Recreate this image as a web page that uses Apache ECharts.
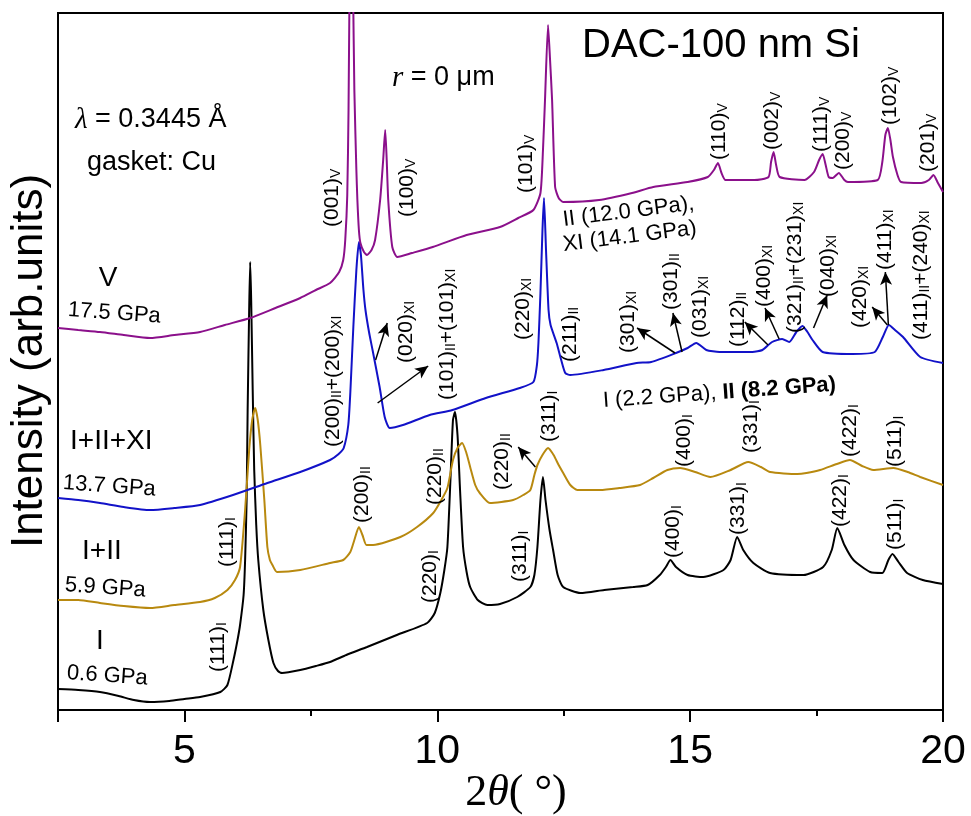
<!DOCTYPE html>
<html><head><meta charset="utf-8">
<script src="https://cdn.jsdelivr.net/npm/echarts@6/dist/echarts.min.js"></script>
<style>html,body{margin:0;padding:0;background:#fff}#c{width:971px;height:816px}</style>
</head><body><div id="c"></div>
<script>
// ---- data: [2theta (deg), intensity (arb. units)] ----
const sI = [[2.5,21],[2.9,20],[3.33,18],[3.7,14],[4.0,10],[4.32,8],[4.7,9],[5.0,11],[5.31,13],[5.71,18],[5.85,25],[5.97,50],[6.05,70],[6.10,85],[6.17,115],[6.20,150],[6.23,210],[6.25,300],[6.28,400],[6.30,448],[6.32,410],[6.35,320],[6.38,240],[6.42,185],[6.46,150],[6.56,100],[6.66,70],[6.76,47],[6.85,39],[6.93,37],[7.29,40],[7.6,44],[7.88,48],[8.2,55],[8.61,63],[9.2,75],[9.80,87],[9.95,97],[10.06,117],[10.14,140],[10.20,163],[10.26,230],[10.31,290],[10.35,298],[10.40,275],[10.45,220],[10.51,163],[10.58,138],[10.65,123],[10.8,110],[10.99,105],[11.24,106],[11.58,113],[11.84,123],[11.92,135],[11.98,163],[12.04,210],[12.09,233],[12.14,210],[12.22,180],[12.29,160],[12.38,135],[12.49,123],[12.83,117],[13.3,120],[13.87,123],[14.16,125],[14.40,135],[14.52,143],[14.61,150],[14.72,143],[14.95,135],[15.26,133],[15.66,140],[15.80,150],[15.93,173],[16.05,160],[16.25,147],[16.58,137],[17.24,135],[17.63,143],[17.80,160],[17.91,182],[18.05,165],[18.23,150],[18.56,138],[18.80,137],[18.92,150],[19.00,156],[19.12,148],[19.29,137],[19.6,130],[20.0,126]];
const sII = [[2.5,110],[2.9,110],[3.33,107],[3.8,104],[4.32,102],[4.8,105],[5.31,108],[5.6,112],[5.85,120],[6.0,130],[6.10,143],[6.20,200],[6.28,260],[6.34,290],[6.40,302],[6.45,290],[6.50,265],[6.58,210],[6.64,163],[6.69,150],[6.74,145],[6.83,138],[7.29,140],[7.88,147],[8.14,150],[8.28,158],[8.36,170],[8.45,183],[8.52,175],[8.60,165],[8.73,165],[9.27,173],[9.6,183],[9.92,197],[10.08,210],[10.20,222],[10.31,250],[10.40,262],[10.49,267],[10.57,258],[10.65,243],[10.75,225],[10.84,217],[11.04,207],[11.50,210],[11.70,215],[11.84,220],[11.92,235],[11.98,245],[12.08,255],[12.19,262],[12.30,255],[12.40,245],[12.49,237],[12.63,225],[12.77,220],[13.22,220],[13.6,222],[14.01,225],[14.27,232],[14.55,240],[14.80,242],[15.1,238],[15.40,233],[15.8,240],[16.15,248],[16.4,243],[16.58,238],[17.12,236],[17.3,237],[17.57,240],[17.9,246],[18.16,250],[18.4,244],[18.62,240],[19.02,242],[19.3,238],[19.55,233],[20.0,225]];
const sXI = [[2.5,212],[2.9,210],[3.33,207],[3.8,203],[4.32,200],[4.8,202],[5.31,205],[5.96,215],[6.64,227],[7.29,238],[7.88,250],[8.05,256],[8.15,262],[8.24,285],[8.28,317],[8.34,383],[8.40,440],[8.45,468],[8.49,455],[8.54,420],[8.58,400],[8.65,378],[8.72,360],[8.86,323],[8.96,293],[9.06,282],[9.32,285],[9.85,295],[10.30,300],[10.96,312],[11.63,322],[11.90,328],[11.97,345],[12.00,367],[12.04,417],[12.08,480],[12.11,512],[12.15,460],[12.20,400],[12.24,385],[12.36,367],[12.45,350],[12.53,337],[12.63,335],[13.29,340],[13.94,347],[14.23,348],[14.72,357],[14.95,362],[15.12,367],[15.32,360],[15.58,358],[16.23,358],[16.43,360],[16.62,368],[16.82,371],[16.96,368],[17.10,378],[17.22,384],[17.32,378],[17.42,370],[17.62,358],[18.21,356],[18.65,358],[18.81,373],[18.93,385],[19.05,380],[19.21,373],[19.55,353],[20.0,347]];
const sV = [[2.5,382],[2.9,380],[3.33,378],[3.8,375],[4.32,372],[4.8,375],[5.31,378],[5.8,385],[6.30,392],[6.8,402],[7.29,412],[7.6,420],[7.88,427],[8.06,438],[8.14,450],[8.18,470],[8.22,515],[8.245,600],[8.265,720],[8.30,820],[8.335,720],[8.36,620],[8.40,540],[8.42,510],[8.45,480],[8.48,467],[8.55,458],[8.61,455],[8.70,460],[8.77,470],[8.87,510],[8.93,550],[8.97,580],[9.00,550],[9.03,510],[9.11,463],[9.21,453],[9.5,457],[9.91,463],[10.58,475],[11.24,483],[11.60,492],[11.90,500],[12.04,517],[12.09,560],[12.13,610],[12.19,685],[12.23,650],[12.27,610],[12.33,523],[12.40,512],[12.49,508],[13.20,510],[13.85,517],[14.27,523],[14.95,528],[15.35,533],[15.47,540],[15.55,547],[15.62,537],[15.70,530],[16.27,530],[16.55,533],[16.60,548],[16.65,558],[16.70,545],[16.77,533],[17.26,530],[17.45,538],[17.55,550],[17.62,556],[17.68,545],[17.74,533],[17.82,532],[17.94,537],[18.05,530],[18.12,528],[18.71,530],[18.80,548],[18.86,575],[18.91,582],[18.96,570],[19.01,553],[19.10,535],[19.17,528],[19.57,527],[19.72,530],[19.81,535],[19.90,527],[20.0,518]];

const xTickLabels = ['5','10','15','20'];

// reflection labels: [2theta, intensity, text] (text "_X" = subscript)
const labelsV = [[7.92,483,'(001)_V'],[9.40,493,'(100)_V'],[11.76,517,'(101)_V'],[15.58,550,'(110)_V'],[16.62,560,'(002)_V'],[17.59,558,'(111)_V'],[18.03,540,'(200)_V'],[18.96,585,'(102)_V'],[19.71,538,'(201)_V']];
const labelsXI = [[7.94,263,'(200)_II+(200)_XI'],[9.38,347,'(020)_XI'],[10.19,310,'(101)_II+(101)_XI'],[11.70,370,'(220)_XI'],[12.63,348,'(211)_II'],[13.77,357,'(301)_XI'],[14.62,400,'(301)_II'],[15.20,372,'(031)_XI'],[15.95,363,'(112)_II'],[16.47,403,'(400)_XI'],[17.08,377,'(321)_II+(231)_XI'],[17.73,413,'(040)_XI'],[18.36,382,'(420)_XI'],[18.86,440,'(411)_XI'],[19.57,370,'(411)_II+(240)_XI']];
const labelsII = [[8.51,187,'(200)_II'],[9.95,205,'(220)_II'],[11.28,220,'(220)_II'],[12.21,268,'(311)_I'],[14.88,243,'(400)_I'],[16.21,257,'(331)_I'],[18.17,253,'(422)_I'],[19.05,243,'(511)_I']];
const labelsI = [[5.85,143,'(111)_I'],[5.67,38,'(111)_I'],[9.86,107,'(220)_I'],[11.64,128,'(311)_I'],[14.66,152,'(400)_I'],[15.95,175,'(331)_I'],[17.97,183,'(422)_I'],[19.05,160,'(511)_I']];
// arrows: [x1, y1, x2, y2] tail -> head
const arrows = [[8.78,350,9.01,387],[8.82,307,9.82,344],[14.70,357,13.95,382],[14.84,358,14.66,397],[16.54,365,16.08,388],[16.76,371,16.48,402],[17.44,382,17.71,415],[18.90,385,18.60,403],[18.92,385,18.86,438],[11.94,243,11.60,263]];

const FONT = "'Liberation Sans', Arial, sans-serif";
const SERIF = "'Liberation Serif', 'Times New Roman', serif";
const chart = echarts.init(document.getElementById('c'), null, {renderer:'canvas'});

function line(name, data, color){
  return {name, type:'line', data, showSymbol:false, symbol:'none', clip:true, silent:true,
    smooth:0.2,
    lineStyle:{color, width:2}, animation:false};
}
const black = line('I', sI, '#000000');
black.markLine = {silent:true, animation:false, symbol:['none','arrow'], symbolSize:[9,13],
  lineStyle:{color:'#000', width:1.5, type:'solid'}, label:{show:false},
  data: arrows.map(a => [{coord:[a[0],a[1]]},{coord:[a[2],a[3]]}])};

chart.setOption({
  animation:false,
  backgroundColor:'#fff',
  grid:{left:58, right:28, top:13, bottom:106, show:true, borderColor:'#000', borderWidth:2, backgroundColor:'transparent'},
  xAxis:{type:'value', min:2.5, max:20, splitNumber:4,
    axisLine:{show:true, lineStyle:{color:'#000', width:2}},
    axisTick:{show:true, length:12, lineStyle:{color:'#000', width:2}},
    minorTick:{show:true, splitNumber:2, length:6, lineStyle:{color:'#000', width:2}},
    splitLine:{show:false}, minorSplitLine:{show:false},
    axisLabel:{fontSize:41, fontFamily:FONT, color:'#000', margin:21,
      formatter: v => { const s = String(v); return xTickLabels.indexOf(s) >= 0 ? s : ''; }}
  },
  yAxis:{type:'value', min:0, max:697, axisLine:{show:false}, axisTick:{show:false}, axisLabel:{show:false}, splitLine:{show:false}},
  series:[black, line('I+II', sII, '#b8890f'), line('I+II+XI', sXI, '#1212c8'), line('V', sV, '#8b108b')]
});

function rich(s){ return ('{a|' + s.replace(/_([IVX]+)/g, '}{s|$1}{a|') + '}').replace(/\{a\|\}/g,''); }
const hklRich = {a:{fontSize:21, fontFamily:FONT, fill:'#000', lineHeight:22}, s:{fontSize:14, fontFamily:FONT, fill:'#000', verticalAlign:'bottom', lineHeight:14}};

function txt(text, x, y, size, opts){
  opts = opts || {};
  return {type:'text', x, y, rotation: opts.rot || 0, z:20, silent:true,
    style:{text, fontSize:size, fontFamily: opts.family || FONT, fontWeight: opts.weight || 'normal', fontStyle: opts.style || 'normal',
      fill:'#000', align: opts.align || 'left', verticalAlign:'middle', rich: opts.rich}};
}

const els = [];
[labelsV, labelsXI, labelsII, labelsI].forEach(arr => arr.forEach(([x,y,t]) => {
  const p = chart.convertToPixel({gridIndex:0}, [x,y]);
  els.push({type:'text', x:p[0], y:p[1], rotation:Math.PI/2, z:20, silent:true,
    style:{text:rich(t), rich:hklRich, align:'left', verticalAlign:'middle', fill:'#000', fontSize:21, fontFamily:FONT}});
}));

const mixRich = {l:{fontFamily:SERIF, fontStyle:'italic', fontSize:29, fill:'#000'}, n:{fontFamily:FONT, fontSize:27, fill:'#000'}};
els.push(txt('{l|λ}{n| = 0.3445 Å}', 75, 120, 27, {rich:mixRich}));
els.push(txt('gasket: Cu', 87, 163, 27));
els.push(txt('{l|r}{n| = 0 μm}', 392, 78, 26, {rich:mixRich}));
els.push(txt('DAC-100 nm Si', 582, 46, 40));
els.push(txt('V', 108, 278, 28, {align:'center'}));
els.push(txt('17.5 GPa', 68, 310, 22, {rot:-0.07}));
els.push(txt('I+II+XI', 70, 441, 28));
els.push(txt('13.7 GPa', 63, 483, 22, {rot:-0.07}));
els.push(txt('I+II', 82, 551, 28));
els.push(txt('5.9 GPa', 65, 585, 22, {rot:-0.07}));
els.push(txt('I', 100, 641, 28, {align:'center'}));
els.push(txt('0.6 GPa', 67, 673, 22, {rot:-0.07}));
els.push(txt('II (12.0 GPa),', 563, 220, 22, {rot:0.125}));
els.push(txt('XI (14.1 GPa)', 563, 245, 22, {rot:0.125}));
els.push(txt('{n|I (2.2 GPa), }{b|II (8.2 GPa)}', 603, 401, 22, {rot:0.07,
  rich:{n:{fontFamily:FONT, fontSize:22, fill:'#000'}, b:{fontFamily:FONT, fontSize:22, fontWeight:'bold', fill:'#000'}}}));
els.push(txt('{n|2}{l|θ}{n|( °)}', 516, 793, 44, {align:'center',
  rich:{n:{fontFamily:SERIF, fontSize:44, fill:'#000'}, l:{fontFamily:SERIF, fontStyle:'italic', fontSize:44, fill:'#000'}}}));
els.push(txt('Intensity (arb.units)', 30, 361, 44, {align:'center', rot:Math.PI/2}));

chart.setOption({graphic: els});
</script></body></html>
